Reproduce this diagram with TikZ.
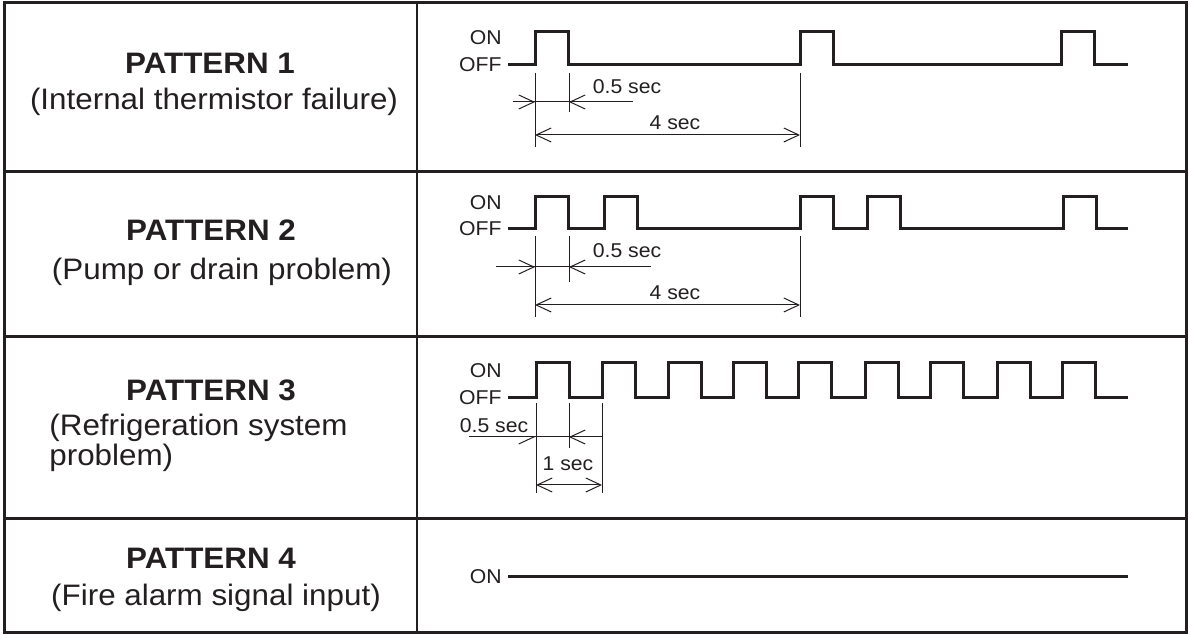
\documentclass[tikz,border=0pt]{standalone}
\usepackage{fontspec}
\setmainfont{Liberation Sans}[FakeStretch=1.06]
\usetikzlibrary{arrows.meta}
\definecolor{mydark}{RGB}{35,31,32}
\tikzset{
  frame/.style={draw=mydark, line width=1.5pt},
  divider/.style={draw=mydark, line width=1.2pt},
  wave/.style={draw=mydark, line width=1.5pt, line join=miter},
  dim/.style={draw=mydark, line width=0.5pt},
  dimarrow/.style={dim, -{Straight Barb[length=7.5pt, width=7pt]}},
  dimhalf/.style={dim, -{Straight Barb[length=7.5pt, width=7pt, right]}},
  dimboth/.style={dim, {Straight Barb[length=7.5pt, width=7pt]}-{Straight Barb[length=7.5pt, width=7pt]}},
  title/.style={font=\fontsize{14.8}{15}\selectfont\bfseries, text=mydark, inner sep=0pt},
  desc/.style={font=\fontsize{14.8}{15}\selectfont, text=mydark, inner sep=0pt},
  sig/.style={font=\fontsize{10}{11}\selectfont, text=mydark, inner xsep=3pt, inner ysep=1pt, anchor=east},
  dimlbl/.style={font=\fontsize{10}{11}\selectfont, text=mydark, inner sep=0pt}
}

\begin{document}
\begin{tikzpicture}[x=0.5pt, y=-0.5pt]
  \useasboundingbox (0,0) rectangle (1189,635);

  % table
  \draw[frame] (4,3) rectangle (1186,633);
  \draw[frame] (4,172) -- (1186,172) (4,337) -- (1186,337) (4,519) -- (1186,519);
  \draw[divider] (417,3) -- (417,633);

  % left column
  \node[title] (p1) at (210,63) {PATTERN 1};
  \node[desc] (d1) at (214,102) {(Internal thermistor failure)};
  \node[title] (p2) at (211,230) {PATTERN 2};
  \node[desc] (d2) at (222,272) {(Pump or drain problem)};
  \node[title] (p3) at (211,390) {PATTERN 3};
  \node[desc, align=left, anchor=west] (d3) at (49,443) {(Refrigeration system\\problem)};
  \node[title] (p4) at (211,558) {PATTERN 4};
  \node[desc] (d4) at (216,598) {(Fire alarm signal input)};

  % pattern 1
  \node[sig] (on1) at (508,38) {ON};
  \node[sig] (off1) at (508,65) {OFF};
  \draw[wave] (off1.east) foreach \t in {535,800,1061} { -- (\t,65) -- (\t,32) -- (\t+33,32) -- (\t+33,65) } -- (1128,65);
  \draw[dim] (535,73) -- (535,147) (569,73) -- (569,112) (800,73) -- (800,147);
  \draw[dim] (513,102) -- (633,102);
  \draw[dimarrow] (515,102) -- (535,102);
  \draw[dimarrow] (589,102) -- (569,102);
  \draw[dimboth] (535,135) -- (800,135);
  \node[dimlbl] (half1) at (627,87) {0.5 sec};
  \node[dimlbl] (four1) at (675,123) {4 sec};

  % pattern 2
  \node[sig] (on2) at (508,203) {ON};
  \node[sig] (off2) at (508,229) {OFF};
  \draw[wave] (off2.east) foreach \t in {535,604,800,867,1063} { -- (\t,229) -- (\t,197) -- (\t+33,197) -- (\t+33,229) } -- (1128,229);
  \draw[dim] (535,236) -- (535,317) (569,236) -- (569,282) (800,236) -- (800,317);
  \draw[dim] (496,267) -- (651,267);
  \draw[dimarrow] (515,267) -- (535,267);
  \draw[dimarrow] (589,267) -- (569,267);
  \draw[dimboth] (535,305) -- (800,305);
  \node[dimlbl] (half2) at (627,251) {0.5 sec};
  \node[dimlbl] (four2) at (675,293) {4 sec};

  % pattern 3
  \node[sig] (on3) at (508,371) {ON};
  \node[sig] (off3) at (508,398) {OFF};
  \draw[wave] (off3.east) foreach \t in {536,602,668,733,798,865,930,997,1062} { -- (\t,398) -- (\t,363) -- (\t+33,363) -- (\t+33,398) } -- (1128,398);
  \draw[dim] (536,403) -- (536,493) (569,403) -- (569,448) (602,403) -- (602,493);
  \draw[dim] (469,437) -- (602,437);
  \draw[dimhalf] (516,437) -- (536,437);
  \draw[dimarrow] (589,437) -- (569,437);
  \draw[dimboth] (536,485) -- (602,485);
  \node[dimlbl] (half3) at (494,426) {0.5 sec};
  \node[dimlbl] (one3) at (568,464) {1 sec};

  % pattern 4
  \node[sig] (on4) at (508,577) {ON};
  \draw[wave] (on4.east) -- (1128,577);
\end{tikzpicture}
\end{document}
